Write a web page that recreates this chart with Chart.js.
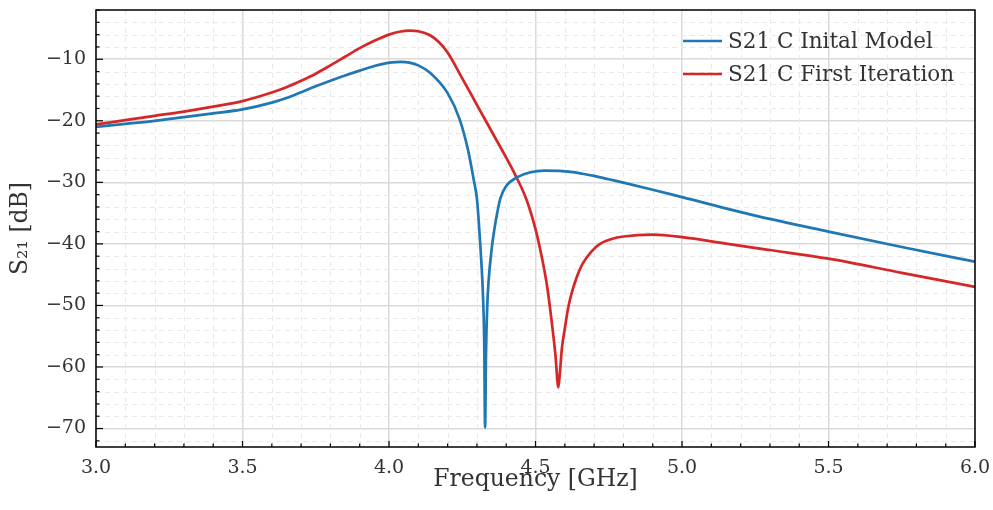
<!DOCTYPE html>
<html lang="en">
<head>
    <meta charset="UTF-8">
    <title>S21 C</title>
    <style>
        html, body { margin: 0; padding: 0; background: #fff; }
        #wrap { width: 993px; height: 510px; }
    </style>
    <script src="https://cdn.jsdelivr.net/npm/chart.js@4"></script>
</head>
<body>
    <div id="wrap"><canvas id="myCanvas" width="993" height="510"></canvas></div>

    <script>
        // frequency [GHz] / S21 [dB]
        const freqInitial = [3.0, 3.1, 3.2, 3.3, 3.4, 3.5, 3.6, 3.65, 3.7, 3.75, 3.8, 3.85, 3.9, 3.95, 3.98, 4.01, 4.04, 4.07, 4.1, 4.14, 4.2,
            4.24, 4.27, 4.29, 4.30, 4.305, 4.31, 4.315, 4.32, 4.325, 4.328, 4.331, 4.335, 4.34, 4.35, 4.36, 4.37, 4.38,
            4.40, 4.44, 4.48, 4.53, 4.58, 4.62, 4.66, 4.7, 4.75, 4.8, 4.9, 5.0, 5.25, 5.5, 5.75, 6.0];
        const s21Initial = [-21.0, -20.5, -20.0, -19.4, -18.8, -18.15, -17.05, -16.3, -15.35, -14.4, -13.5, -12.65, -11.85, -11.1, -10.75, -10.5, -10.42, -10.55, -11.0, -12.2, -15.5,
            -19.6, -24.8, -29.8, -32.6, -35.5, -39.0, -42.8, -47.5, -56.0, -69.8, -58.0, -50.5, -46.0, -41.0, -37.5, -34.8, -32.6,
            -30.6, -29.1, -28.4, -28.1, -28.15, -28.3, -28.6, -28.95, -29.5, -30.05, -31.2, -32.4, -35.4, -38.0, -40.5, -42.9];

        const freqFirst = [3.0, 3.1, 3.2, 3.3, 3.4, 3.5, 3.6, 3.65, 3.7, 3.75, 3.8, 3.85, 3.9, 3.95, 4.0, 4.04, 4.07, 4.1, 4.14, 4.17, 4.2,
            4.25, 4.3, 4.35, 4.4, 4.43, 4.47, 4.5, 4.52, 4.54, 4.555, 4.568, 4.578, 4.584, 4.59, 4.6, 4.61, 4.62, 4.64,
            4.66, 4.69, 4.72, 4.76, 4.8, 4.9, 5.0, 5.15, 5.3, 5.5, 5.75, 6.0];
        const s21First = [-20.6, -19.9, -19.2, -18.5, -17.7, -16.8, -15.4, -14.55, -13.5, -12.35, -11.0, -9.6, -8.2, -7.0, -6.0, -5.5, -5.35, -5.45, -6.1, -7.2, -8.9,
            -13.1, -17.4, -21.7, -26.0, -28.7, -32.9, -37.6, -41.8, -47.0, -52.5, -58.0, -63.3, -60.5, -57.0, -53.8, -50.8, -48.6, -45.5,
            -43.3, -41.3, -40.0, -39.2, -38.8, -38.5, -38.9, -39.95, -41.0, -42.4, -44.7, -47.0];

        const seriesNames = ['S21 C Inital Model', 'S21 C First Iteration'];
        const seriesColors = ['#1f77b4', '#d62728'];

        const xTickValues = [3.0, 3.5, 4.0, 4.5, 5.0, 5.5, 6.0];
        const yTickValues = [-70, -60, -50, -40, -30, -20, -10];
        const xMinorStep = 0.1;
        const yMinorStep = 2;

        const FONT = "'DejaVu Serif', serif";
        const TEXT = '#333';

        function toPoints(xs, ys) {
            return xs.map((x, i) => ({ x: x, y: ys[i] }));
        }

        function isMultiple(v, step) {
            const r = Math.abs(v / step - Math.round(v / step));
            return r < 1e-6;
        }

        // minor dashed grid, inward ticks, frame and in-plot legend
        const decorations = {
            id: 'decorations',
            beforeDatasetsDraw(chart) {
                const { ctx, chartArea: a, scales: { x, y } } = chart;
                ctx.save();
                ctx.strokeStyle = '#e9e9e9';
                ctx.lineWidth = 1;
                ctx.setLineDash([5, 4]);
                for (let v = x.min; v <= x.max + 1e-9; v += xMinorStep) {
                    if (isMultiple(v, 0.5)) continue;
                    const px = Math.round(x.getPixelForValue(v)) + 0.5;
                    ctx.beginPath(); ctx.moveTo(px, a.top); ctx.lineTo(px, a.bottom); ctx.stroke();
                }
                for (let v = Math.ceil(y.min / yMinorStep) * yMinorStep; v <= y.max; v += yMinorStep) {
                    if (isMultiple(v, 10)) continue;
                    const py = Math.round(y.getPixelForValue(v)) + 0.5;
                    ctx.beginPath(); ctx.moveTo(a.left, py); ctx.lineTo(a.right, py); ctx.stroke();
                }
                ctx.restore();
            },
            afterDatasetsDraw(chart) {
                const { ctx, chartArea: a, scales: { x, y } } = chart;
                ctx.save();
                ctx.strokeStyle = '#000';
                ctx.lineWidth = 1.2;
                ctx.setLineDash([]);
                for (let v = x.min; v <= x.max + 1e-9; v += xMinorStep) {
                    const len = isMultiple(v, 0.5) ? 6 : 3.5;
                    const px = x.getPixelForValue(v);
                    ctx.beginPath(); ctx.moveTo(px, a.bottom); ctx.lineTo(px, a.bottom - len); ctx.stroke();
                }
                for (let v = Math.ceil(y.min / yMinorStep) * yMinorStep; v <= y.max; v += yMinorStep) {
                    const len = isMultiple(v, 10) ? 7 : 3.5;
                    const py = y.getPixelForValue(v);
                    ctx.beginPath(); ctx.moveTo(a.left, py); ctx.lineTo(a.left + len, py); ctx.stroke();
                }
                ctx.lineWidth = 1.5;
                ctx.strokeRect(a.left, a.top, a.right - a.left, a.bottom - a.top);

                // legend
                ctx.font = '21.5px ' + FONT;
                ctx.textBaseline = 'middle';
                ctx.textAlign = 'left';
                chart.data.datasets.forEach((ds, i) => {
                    const ly = a.top + 31 + i * 33;
                    const lx = a.right - 292;
                    ctx.strokeStyle = ds.borderColor;
                    ctx.lineWidth = 2.7;
                    ctx.beginPath(); ctx.moveTo(lx, ly); ctx.lineTo(lx + 39, ly); ctx.stroke();
                    ctx.fillStyle = TEXT;
                    ctx.fillText(ds.label, lx + 45, ly + 1);
                });
                ctx.restore();
            }
        };

        const ctx = document.getElementById('myCanvas').getContext('2d');

        const chart = new Chart(ctx, {
            type: 'line',
            data: {
                datasets: [
                    {
                        label: seriesNames[0],
                        data: toPoints(freqInitial, s21Initial),
                        borderColor: seriesColors[0],
                        borderWidth: 2.7,
                        pointRadius: 0,
                        fill: false,
                        cubicInterpolationMode: 'monotone'
                    },
                    {
                        label: seriesNames[1],
                        data: toPoints(freqFirst, s21First),
                        borderColor: seriesColors[1],
                        borderWidth: 2.7,
                        pointRadius: 0,
                        fill: false,
                        cubicInterpolationMode: 'monotone'
                    }
                ]
            },
            options: {
                responsive: false,
                animation: false,
                layout: { padding: { left: 0, right: 18, top: 10, bottom: 0 } },
                plugins: {
                    legend: { display: false },
                    tooltip: { enabled: false }
                },
                scales: {
                    x: {
                        type: 'linear',
                        min: 3.0,
                        max: 6.0,
                        afterFit(scale) {
                            scale.height = 63;
                            scale.paddingLeft = 0;
                            scale.paddingRight = 0;
                        },
                        afterBuildTicks(scale) { scale.ticks = xTickValues.map(v => ({ value: v })); },
                        ticks: {
                            color: TEXT,
                            padding: 10,
                            maxRotation: 0,
                            font: { family: FONT, size: 19 },
                            callback: v => v.toFixed(1)
                        },
                        grid: { color: '#dadada', lineWidth: 1.5, drawTicks: false },
                        border: { display: false },
                        title: {
                            display: true,
                            text: 'Frequency [GHz]',
                            color: TEXT,
                            font: { family: FONT, size: 23.5 },
                            padding: { top: 0, bottom: 16 }
                        }
                    },
                    y: {
                        type: 'linear',
                        min: -73,
                        max: -2,
                        afterFit(scale) {
                            scale.width = 96;
                            scale.paddingTop = 0;
                            scale.paddingBottom = 0;
                        },
                        afterBuildTicks(scale) { scale.ticks = yTickValues.map(v => ({ value: v })); },
                        ticks: {
                            color: TEXT,
                            padding: 10,
                            font: { family: FONT, size: 19 },
                            callback: v => (v < 0 ? '\u2212' : '') + Math.abs(v)
                        },
                        grid: { color: '#dadada', lineWidth: 1.5, drawTicks: false },
                        border: { display: false },
                        title: {
                            display: true,
                            text: 'S\u2082\u2081 [dB]',
                            color: TEXT,
                            font: { family: FONT, size: 23.5 },
                            padding: { top: 7, bottom: 0 }
                        }
                    }
                }
            },
            plugins: [decorations]
        });
    </script>
</body>
</html>
